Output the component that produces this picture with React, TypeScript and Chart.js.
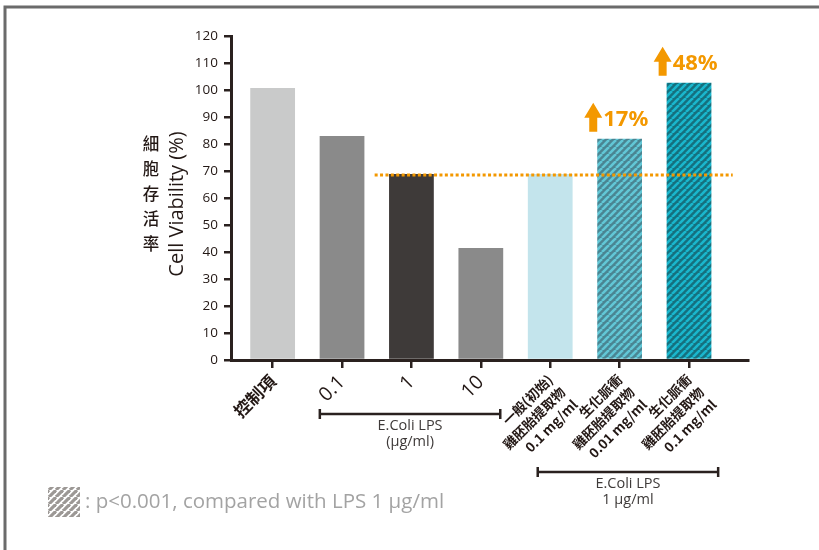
import { useEffect, useRef } from "react";
import { Chart, registerables } from "chart.js";

Chart.register(...registerables);

const categories: string[][] = [
  ["控制項"],
  ["0.1"],
  ["1"],
  ["10"],
  ["一般(初始)", "雞胚胎提取物", "0.1 mg/ml"],
  ["生化脈衝", "雞胚胎提取物", "0.01 mg/ml"],
  ["生化脈衝", "雞胚胎提取物", "0.1 mg/ml"],
];
const viability = [100.7, 83.0, 68.9, 41.5, 68.9, 81.9, 102.7];
const increaseLabels: (string | null)[] = [null, null, null, null, null, "17%", "48%"];
const yMin = 0;
const yMax = 120;
const yStep = 10;
const referenceLevel = 68.5;
const referenceFrom = 1.47;
const referenceTo = 6.63;
const bracketFrom = [0.68, 3.82];
const bracketTo = [3.28, 6.42];
const bracketLines = [
  ["E.Coli LPS", "(μg/ml)"],
  ["E.Coli LPS", "1 μg/ml"],
];
const yTitleZh = "細胞存活率";
const yTitleEn = "Cell Viability (%)";
const legendText = ": p<0.001, compared with LPS 1 μg/ml";

const DARK = "#2a211f";
const ORANGE = "#f39800";

function makeStripes(bg: string, fg: string, size: number, width: number) {
  const c = document.createElement("canvas");
  c.width = size;
  c.height = size;
  const g = c.getContext("2d")!;
  g.fillStyle = bg;
  g.fillRect(0, 0, size, size);
  g.strokeStyle = fg;
  g.lineWidth = width;
  for (let k = -1; k <= 1; k++) {
    g.beginPath();
    g.moveTo(k * size, size);
    g.lineTo(k * size + size, 0);
    g.stroke();
  }
  return g.createPattern(c, "repeat")!;
}

export default function App() {
  const ref = useRef<HTMLCanvasElement>(null);
  useEffect(() => {
    const canvas = ref.current!;
    const hatchA = makeStripes("#4a8592", "#62c7d6", 7, 2.6);
    const hatchB = makeStripes("#15707e", "#1ab6cd", 7, 2.6);
    const hatchLegend = makeStripes("#ffffff", "#9c9895", 7, 3.2);
    const colors: (string | CanvasPattern)[] = [
      "#c9caca",
      "#8a8a8a",
      "#3e3a39",
      "#8a8a8a",
      "#c3e4ec",
      hatchA,
      hatchB,
    ];

    const overlay = {
      id: "overlay",
      afterDatasetsDraw(chart: any) {
        const { ctx, chartArea, scales } = chart;
        const xs = scales.x;
        const ys = scales.y;
        const meta = chart.getDatasetMeta(0);
        ctx.save();

        // reference dotted line
        ctx.strokeStyle = ORANGE;
        ctx.lineWidth = 3;
        ctx.setLineDash([3, 2.4]);
        ctx.beginPath();
        const ry = ys.getPixelForValue(referenceLevel);
        ctx.moveTo(xs.getPixelForValue(referenceFrom), ry);
        ctx.lineTo(xs.getPixelForValue(referenceTo), ry);
        ctx.stroke();
        ctx.setLineDash([]);

        // arrows + labels
        increaseLabels.forEach((lab, i) => {
          if (!lab) return;
          const bar = meta.data[i];
          const left = bar.x - bar.width / 2;
          const cx = left - 4;
          const bottom = bar.y - 7;
          const top = bottom - 29;
          ctx.fillStyle = ORANGE;
          ctx.beginPath();
          ctx.moveTo(cx, top);
          ctx.lineTo(cx + 9, top + 15);
          ctx.lineTo(cx + 4, top + 15);
          ctx.lineTo(cx + 4, bottom);
          ctx.lineTo(cx - 4, bottom);
          ctx.lineTo(cx - 4, top + 15);
          ctx.lineTo(cx - 9, top + 15);
          ctx.closePath();
          ctx.fill();
          ctx.font = "bold 22px 'Noto Sans', 'Open Sans', sans-serif";
          ctx.textAlign = "left";
          ctx.textBaseline = "middle";
          ctx.fillText(lab, cx + 10, bottom - 12);
        });

        // brackets
        const bracketY = [chartArea.bottom + 54, chartArea.bottom + 112];
        bracketFrom.forEach((f, i) => {
          const x1 = xs.getPixelForValue(f);
          const x2 = xs.getPixelForValue(bracketTo[i]);
          const y = bracketY[i];
          ctx.strokeStyle = DARK;
          ctx.lineWidth = 2.5;
          ctx.beginPath();
          ctx.moveTo(x1, y);
          ctx.lineTo(x2, y);
          ctx.moveTo(x1, y - 5);
          ctx.lineTo(x1, y + 5);
          ctx.moveTo(x2, y - 5);
          ctx.lineTo(x2, y + 5);
          ctx.stroke();
          ctx.fillStyle = "#3e3a39";
          ctx.font = "14.5px 'Open Sans', 'Noto Sans', sans-serif";
          ctx.textAlign = "center";
          ctx.textBaseline = "middle";
          bracketLines[i].forEach((t, j) => {
            ctx.fillText(t, (x1 + x2) / 2, y + 12 + j * 16);
          });
        });

        // y titles
        ctx.fillStyle = "#231815";
        ctx.font = "500 16.5px 'Noto Sans CJK TC', sans-serif";
        ctx.textAlign = "center";
        ctx.textBaseline = "middle";
        const chars = Array.from(yTitleZh);
        const pitch = 25;
        const zcy = 194;
        chars.forEach((ch, k) => {
          ctx.fillText(ch, 151, zcy + (k - (chars.length - 1) / 2) * pitch);
        });
        ctx.save();
        ctx.translate(177, 204);
        ctx.rotate(-Math.PI / 2);
        ctx.font = "20px 'Open Sans', 'Noto Sans', sans-serif";
        ctx.fillText(yTitleEn, 0, 0);
        ctx.restore();

        // legend
        ctx.fillStyle = hatchLegend;
        ctx.fillRect(48, 487, 32, 30);
        ctx.fillStyle = "#a3a3a3";
        ctx.font = "20.5px 'Open Sans', 'Noto Sans', sans-serif";
        ctx.textAlign = "left";
        ctx.textBaseline = "middle";
        ctx.fillText(legendText, 85, 502);

        // frame
        ctx.strokeStyle = "#6b6b6b";
        ctx.lineWidth = 3;
        ctx.beginPath();
        ctx.moveTo(819, 7);
        ctx.lineTo(5, 7);
        ctx.lineTo(5, 550);
        ctx.stroke();
        ctx.restore();
      },
    };

    const chart = new Chart(canvas, {
      type: "bar",
      data: {
        datasets: [
          {
            data: viability.map((v, i) => ({ x: i, y: v })),
            backgroundColor: colors as any,
            borderWidth: 0,
            barPercentage: 0.645,
            categoryPercentage: 1,
          },
        ],
      },
      options: {
        animation: false,
        responsive: false,
        layout: { padding: { top: 36, right: 71, left: 0, bottom: 0 } },
        plugins: { legend: { display: false }, tooltip: { enabled: false } },
        scales: {
          x: {
            type: "linear",
            offset: false,
            min: -0.6,
            max: 6.85,
            afterBuildTicks: (scale: any) => {
              scale.ticks = categories.map((_, i) => ({ value: i }));
            },
            afterFit: (scale: any) => {
              scale.height = 190;
              scale.paddingLeft = 0;
              scale.paddingRight = 0;
            },
            grid: {
              display: true,
              offset: false,
              drawOnChartArea: false,
              drawTicks: true,
              tickLength: 8,
              lineWidth: 2.5,
              color: DARK,
            },
            border: { display: true, color: DARK, width: 3 },
            ticks: {
              autoSkip: false,
              maxRotation: 45,
              minRotation: 45,
              padding: 3,
              color: "#231815",
              callback: (v: any) => categories[v] ?? "",
              font: (c: any) => {
                const i = c.index;
                if (i === 0) return { family: "'Noto Sans CJK TC', sans-serif", size: 17, weight: "bold" };
                if (i <= 3) return { family: "'Open Sans', 'Noto Sans', sans-serif", size: 19.5 };
                return { family: "'Noto Sans CJK TC', sans-serif", size: 13.5, weight: "bold", lineHeight: 1.3 };
              },
            },
          },
          y: {
            min: yMin,
            max: yMax,
            afterFit: (scale: any) => {
              scale.width = 231;
            },
            grid: {
              display: true,
              drawOnChartArea: false,
              drawTicks: true,
              tickLength: 7,
              lineWidth: 2.5,
              color: DARK,
            },
            border: { display: true, color: DARK, width: 3 },
            ticks: {
              stepSize: yStep,
              padding: 6,
              color: "#231815",
              font: { family: "'Open Sans', 'Noto Sans', sans-serif", size: 13.5 },
            },
          },
        },
      },
      plugins: [overlay],
    });
    return () => chart.destroy();
  }, []);
  return (
    <div style={{ position: "fixed", left: 0, top: 0, width: 819, height: 550, background: "#fff" }}>
      <canvas ref={ref} width={819} height={550} style={{ width: 819, height: 550, display: "block" }} />
    </div>
  );
}
